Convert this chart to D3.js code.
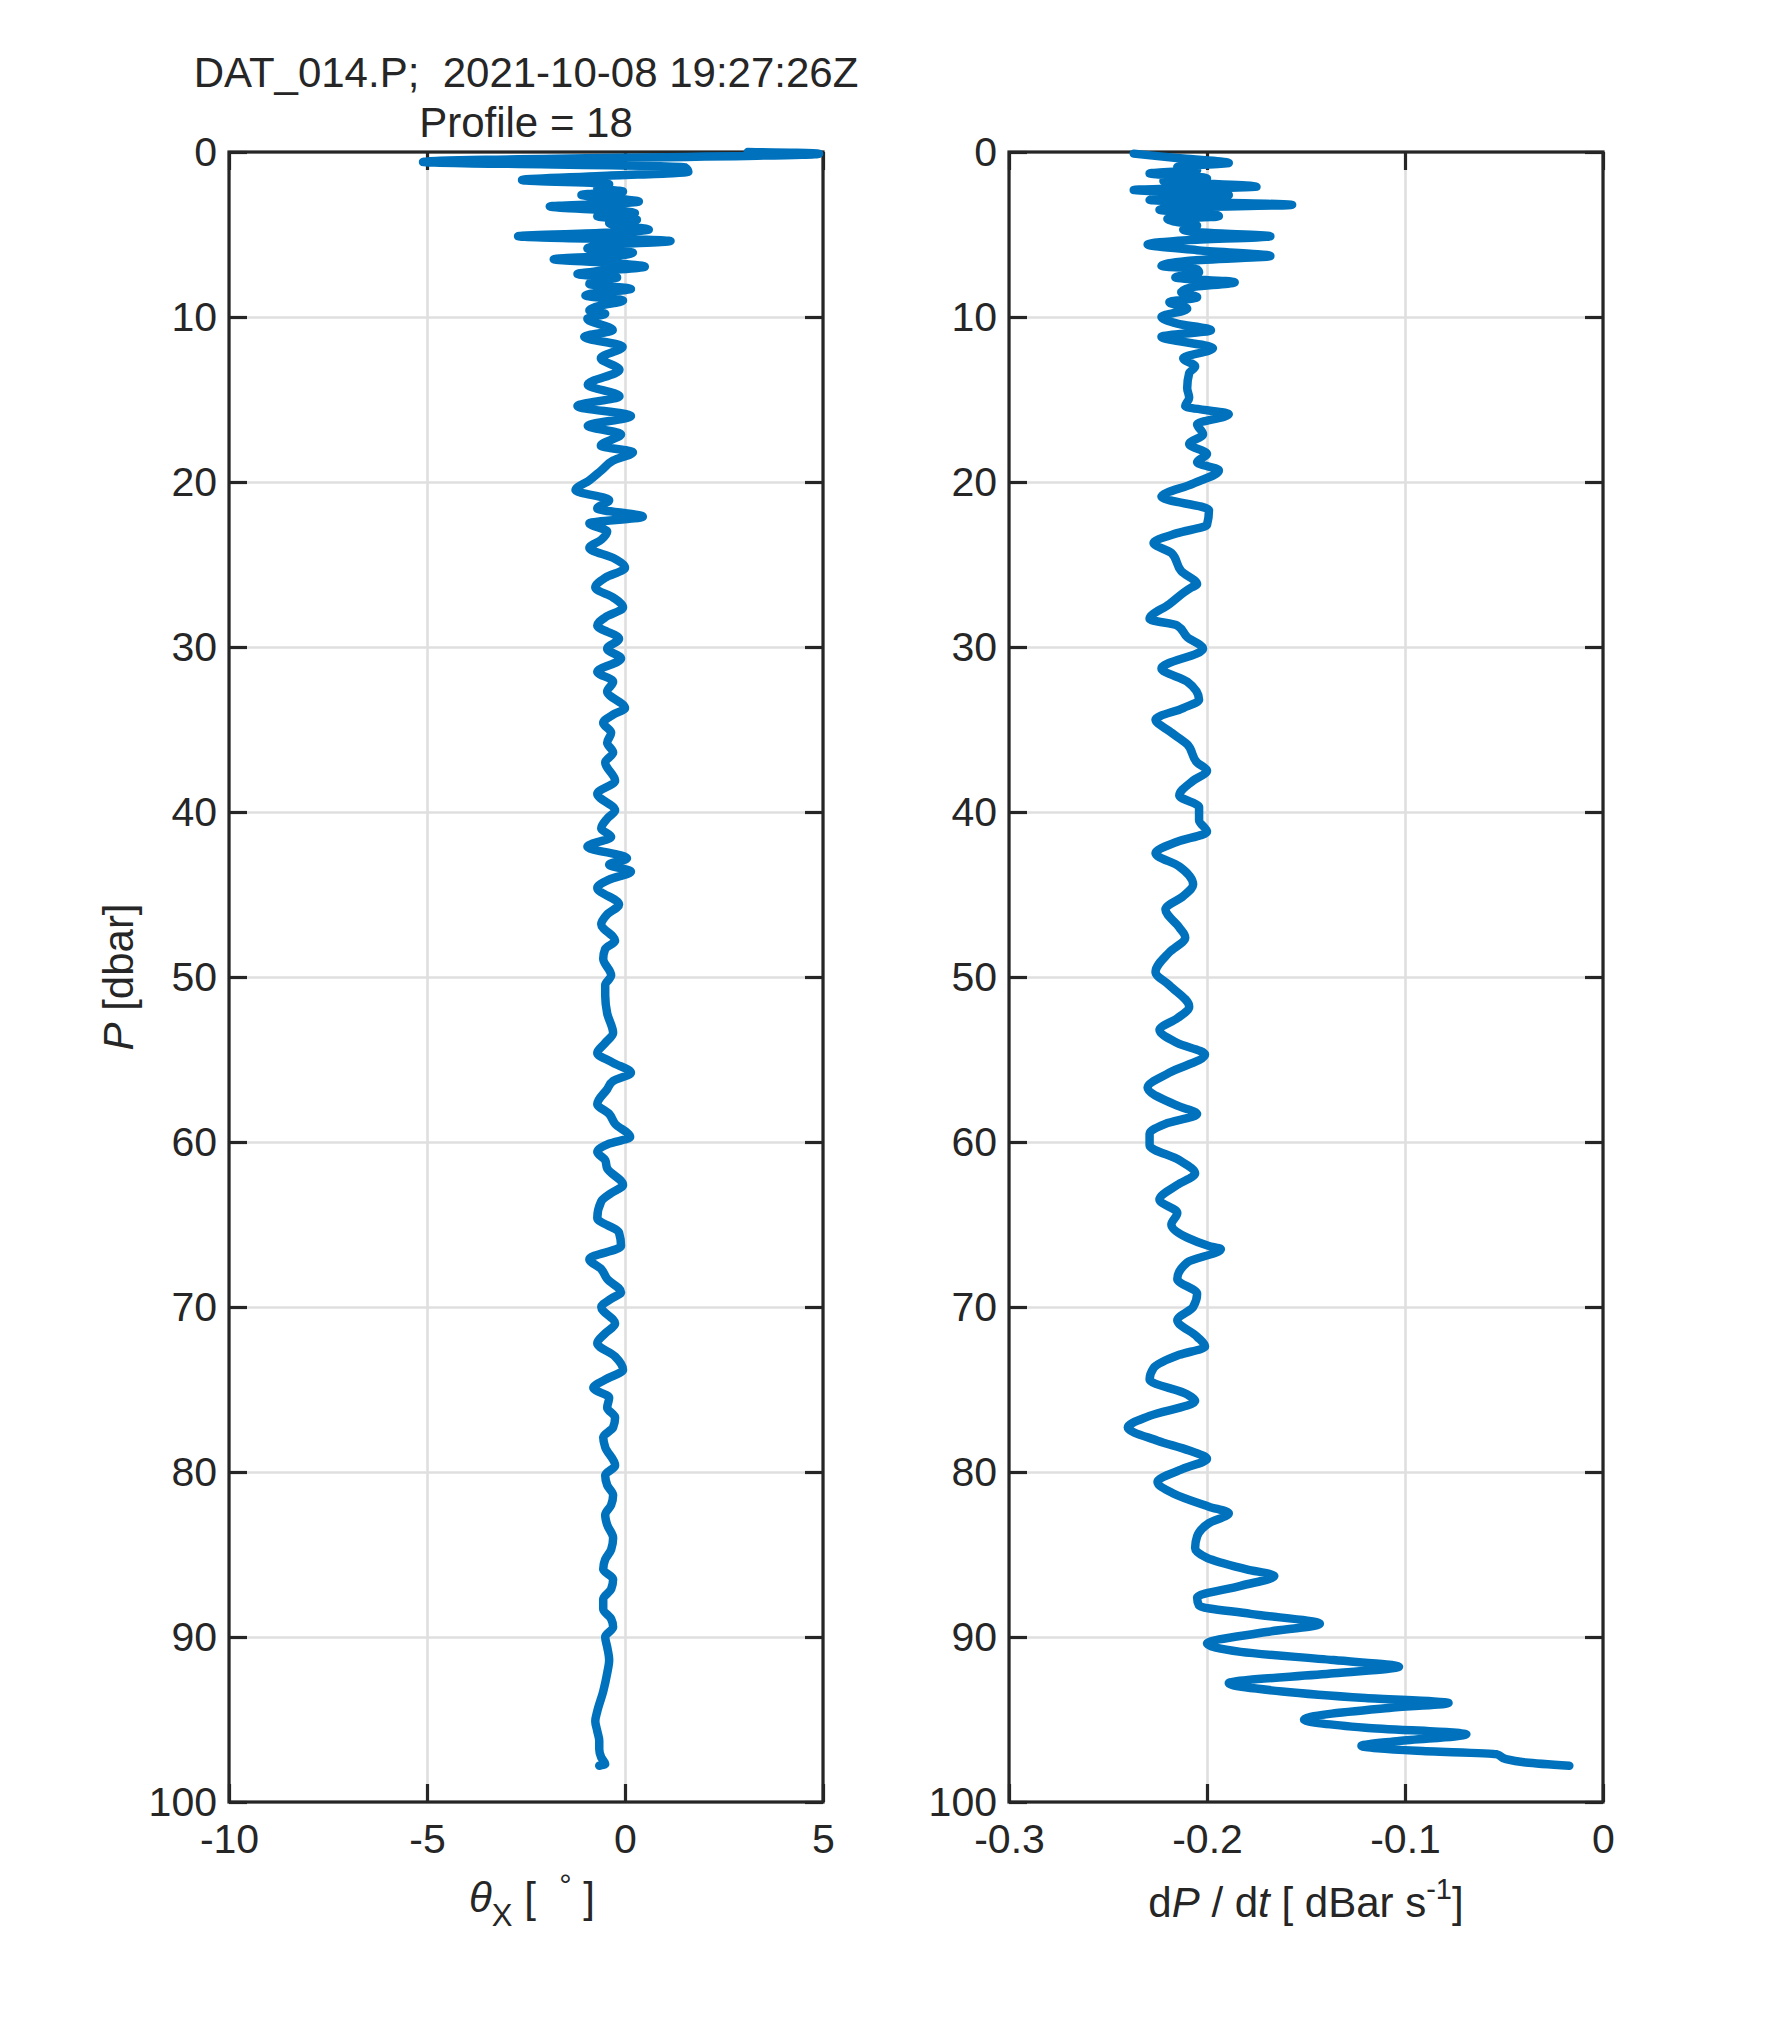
<!DOCTYPE html>
<html lang="en">
<head>
<meta charset="utf-8">
<title>DAT_014.P profile 18</title>
<script src="https://cdn.jsdelivr.net/npm/d3@7"></script>
<style>
  body { margin: 0; background: #fff; }
  text { font-family: "Liberation Sans", Arial, Helvetica, sans-serif; fill: #262626; }
</style>
</head>
<body>
<script>
// pressure levels and pitch angle theta_X (left panel)
var pTheta = [0.0,0.1,0.6,0.9,1.2,1.45,1.7,1.95,2.2,2.4,2.6,2.8,3.0,3.15,3.3,3.55,3.7,3.9,4.1,4.3,4.5,4.7,4.9,5.1,5.4,5.6,5.85,6.1,6.3,6.5,6.7,6.95,7.2,7.4,7.6,7.8,8.0,8.3,8.5,8.7,9.0,9.3,9.6,9.8,
  10.1,10.8,11.2,11.8,12.5,13.2,14.1,14.8,15.4,16.0,16.6,17.1,17.8,18.2,18.7,19.3,19.9,20.5,21.1,21.6,22.1,22.5,23.0,23.5,24.0,24.6,25.2,25.8,26.4,27.0,27.6,28.2,28.7,29.5,
  30.1,30.7,31.5,32.1,32.7,33.7,34.1,34.6,35.2,35.8,36.4,37.0,38.1,38.9,39.9,40.4,41.0,41.5,42.1,42.8,43.2,43.6,44.1,44.6,45.6,46.2,46.8,47.8,48.3,48.9,49.9,
  50.5,51.1,52.2,53.4,54.0,54.6,55.2,55.8,56.3,56.8,57.7,58.3,58.9,59.7,60.1,60.6,61.1,61.6,62.6,63.1,63.6,64.6,65.5,66.3,67.1,67.7,68.3,69.1,69.5,
  70.0,71.0,71.6,72.2,73.0,73.8,74.4,74.9,75.5,76.1,76.7,77.3,77.9,78.5,79.6,80.2,80.8,81.4,82.0,82.6,83.2,84.0,84.7,85.3,85.9,86.5,87.1,87.7,88.3,88.9,89.4,
  90.0,90.6,91.4,92.2,93.3,94.5,95.1,95.7,96.3,96.8,97.3,97.7,97.8];
var theta = [3.1,4.9,-5.1,1.5,1.6,-0.6,-2.6,-0.4,-0.7,-0.05,-1.1,-0.4,0.35,-0.6,-1.9,-0.3,0.25,-0.7,0.3,-0.4,-0.1,0.6,-0.5,-2.7,1.15,-0.3,-0.95,0.2,-0.3,-1.8,-0.5,0.5,-0.6,-1.2,-0.2,-0.8,-0.9,0.15,-0.6,-1.0,-0.05,-0.6,-0.9,-0.5,
  -0.95,-0.31,-1.03,-0.06,-0.61,-0.14,-0.94,-0.14,-1.2,0.15,-0.94,-0.1,-0.61,0.2,-0.3,-0.6,-0.9,-1.25,-0.4,-0.7,0.45,-0.9,-0.45,-0.6,-0.9,-0.3,0.0,-0.5,-0.75,-0.3,-0.05,-0.5,-0.7,-0.15,
  -0.45,-0.1,-0.7,-0.3,-0.45,0.0,-0.3,-0.55,-0.35,-0.45,-0.3,-0.5,-0.25,-0.7,-0.25,-0.45,-0.6,-0.35,-0.95,0.05,-0.4,0.15,-0.4,-0.7,-0.15,-0.45,-0.6,-0.25,-0.5,-0.55,-0.35,
  -0.5,-0.5,-0.45,-0.3,-0.5,-0.7,-0.3,0.15,-0.3,-0.45,-0.7,-0.4,-0.25,0.13,-0.4,-0.7,-0.5,-0.45,-0.05,-0.35,-0.6,-0.7,-0.15,-0.1,-0.9,-0.6,-0.45,-0.1,-0.35,
  -0.6,-0.25,-0.5,-0.7,-0.25,-0.05,-0.5,-0.8,-0.4,-0.45,-0.25,-0.3,-0.55,-0.5,-0.25,-0.5,-0.45,-0.3,-0.35,-0.5,-0.45,-0.3,-0.35,-0.5,-0.55,-0.3,-0.35,-0.55,-0.55,-0.35,-0.3,
  -0.5,-0.45,-0.4,-0.45,-0.55,-0.7,-0.75,-0.7,-0.65,-0.65,-0.6,-0.5,-0.65];

// pressure levels and fall rate dP/dt (right panel)
var pRate = [0.1,0.25,0.4,0.66,0.9,1.1,1.3,1.45,1.6,1.75,1.9,2.1,2.3,2.45,2.6,2.75,2.9,3.05,3.2,3.35,3.5,3.7,3.9,4.05,4.2,4.45,4.7,4.9,5.1,5.35,5.6,5.95,6.3,6.6,6.9,7.1,7.3,7.6,7.9,8.2,8.5,8.8,9.1,9.5,
  10.0,10.4,10.8,11.2,11.9,12.5,13.0,13.4,14.3,14.9,15.4,15.9,16.5,17.1,17.7,18.3,18.8,19.3,20.1,20.9,21.7,22.6,23.1,23.7,24.3,25.4,26.2,26.4,27.4,28.3,28.7,29.4,
  30.1,31.3,32.1,33.2,33.7,34.4,35.1,35.9,37.0,37.5,38.1,39.0,39.7,40.5,41.2,41.8,42.5,43.3,44.4,45.1,45.9,47.0,47.6,48.5,49.7,
  50.5,51.8,52.5,53.2,54.0,54.7,55.8,56.7,57.8,58.3,58.9,59.5,60.2,61.1,61.9,62.6,63.5,64.3,65.0,65.8,66.3,66.5,67.3,68.3,69.2,
  70.0,70.8,71.8,72.4,72.9,73.7,74.4,75.3,75.7,76.6,77.3,78.1,78.7,79.2,79.8,80.6,81.3,82.1,82.5,83.1,83.9,84.6,85.2,85.9,86.3,86.9,87.6,88.1,88.6,89.2,89.7,
  90.4,90.9,91.4,91.8,92.2,92.8,93.3,93.7,94.0,94.3,95.0,95.5,95.9,96.3,96.6,96.9,97.1,97.4,97.6,97.8];
var rate = [-0.237,-0.225,-0.212,-0.189,-0.215,-0.205,-0.229,-0.21,-0.2,-0.222,-0.205,-0.175,-0.237,-0.205,-0.189,-0.22,-0.229,-0.2,-0.157,-0.21,-0.224,-0.2,-0.194,-0.22,-0.217,-0.205,-0.212,-0.2,-0.168,-0.21,-0.23,-0.205,-0.168,-0.21,-0.223,-0.205,-0.204,-0.216,-0.186,-0.208,-0.213,-0.205,-0.219,-0.21,
  -0.223,-0.215,-0.198,-0.223,-0.197,-0.212,-0.206,-0.209,-0.21,-0.209,-0.211,-0.189,-0.205,-0.202,-0.209,-0.2,-0.205,-0.194,-0.207,-0.223,-0.199,-0.2,-0.215,-0.227,-0.218,-0.213,-0.205,-0.208,-0.219,-0.229,-0.215,-0.21,
  -0.202,-0.223,-0.21,-0.204,-0.212,-0.226,-0.219,-0.21,-0.205,-0.2,-0.207,-0.214,-0.204,-0.204,-0.2,-0.215,-0.226,-0.214,-0.207,-0.212,-0.221,-0.214,-0.211,-0.219,-0.226,
  -0.219,-0.209,-0.215,-0.224,-0.215,-0.201,-0.219,-0.23,-0.215,-0.205,-0.221,-0.229,-0.229,-0.214,-0.206,-0.215,-0.224,-0.215,-0.218,-0.21,-0.199,-0.193,-0.21,-0.215,-0.205,
  -0.207,-0.215,-0.205,-0.201,-0.214,-0.227,-0.229,-0.21,-0.206,-0.229,-0.24,-0.225,-0.209,-0.2,-0.212,-0.225,-0.217,-0.199,-0.189,-0.199,-0.205,-0.206,-0.2,-0.18,-0.166,-0.183,-0.205,-0.204,-0.178,-0.143,-0.17,
  -0.2,-0.183,-0.136,-0.103,-0.136,-0.189,-0.162,-0.12,-0.078,-0.108,-0.151,-0.12,-0.069,-0.103,-0.122,-0.094,-0.054,-0.049,-0.039,-0.017];

var pTicks = [0,10,20,30,40,50,60,70,80,90,100];
var thetaTicks = [-10,-5,0,5];
var rateTicks = [-0.3,-0.2,-0.1,0];

var W = 1771, H = 2025;
var yTop = 152, yBottom = 1802;
var axisColor = "#262626", gridColor = "#dfdfdf", lineColor = "#0072BD";

var svg = d3.select("body").append("svg")
  .attr("width", W).attr("height", H)
  .style("background", "#fff");

var y = d3.scaleLinear().domain([0, 100]).range([yTop, yBottom]);

// MATLAB style labels use a plain hyphen
function plain(d) { return String(d); }

function panel(left, right, xDomain, xTicks, P, V) {
  var x = d3.scaleLinear().domain(xDomain).range([left, right]);
  var g = svg.append("g");
  var h = yBottom - yTop, w = right - left;

  // grid
  g.append("g").attr("transform", "translate(0," + yBottom + ")")
    .call(d3.axisBottom(x).tickValues(xTicks).tickSize(-h).tickFormat(""))
    .call(function(s){ s.select(".domain").remove(); s.selectAll("line").attr("stroke", gridColor).attr("stroke-width", 2.6); });
  g.append("g").attr("transform", "translate(" + left + ",0)")
    .call(d3.axisLeft(y).tickValues(pTicks).tickSize(-w).tickFormat(""))
    .call(function(s){ s.select(".domain").remove(); s.selectAll("line").attr("stroke", gridColor).attr("stroke-width", 2.6); });

  // axes with inward ticks on all four sides
  var tl = 18;
  var ax = [
    [d3.axisBottom(x).tickValues(xTicks).tickFormat(plain), "translate(0," + yBottom + ")"],
    [d3.axisTop(x).tickValues(xTicks).tickFormat(""), "translate(0," + yTop + ")"],
    [d3.axisLeft(y).tickValues(pTicks).tickFormat(plain), "translate(" + left + ",0)"],
    [d3.axisRight(y).tickValues(pTicks).tickFormat(""), "translate(" + right + ",0)"]
  ];
  ax.forEach(function(a, i) {
    var axis = a[0].tickSizeInner(-tl).tickSizeOuter(0).tickPadding(i === 0 ? 22 : 12);
    g.append("g").attr("transform", a[1]).call(axis)
      .call(function(s){
        s.select(".domain").remove();
        s.selectAll("line").attr("stroke", axisColor).attr("stroke-width", 3.2);
        s.selectAll("text").style("font-size", "41px").style("font-family", "'Liberation Sans', Arial, sans-serif").attr("fill", axisColor);
      });
  });
  g.append("rect").attr("x", left).attr("y", yTop).attr("width", w).attr("height", h)
    .attr("fill", "none").attr("stroke", axisColor).attr("stroke-width", 3.2);

  var line = d3.line()
    .x(function(d){ return x(d[1]); })
    .y(function(d){ return y(d[0]); })
    .curve(d3.curveMonotoneY);
  g.append("path").datum(d3.zip(P, V))
    .attr("d", line)
    .attr("fill", "none").attr("stroke", lineColor)
    .attr("stroke-width", 8.5).attr("stroke-linejoin", "round").attr("stroke-linecap", "round");
  return x;
}

panel(229, 823, [-10, 5], thetaTicks, pTheta, theta);
panel(1009, 1603, [-0.3, 0], rateTicks, pRate, rate);

// title
var title = svg.append("text").attr("text-anchor", "middle").style("font-size", "42px").attr("fill", "#000");
title.append("tspan").attr("x", 526).attr("y", 87).text("DAT_014.P;\u00a0 2021-10-08 19:27:26Z");
title.append("tspan").attr("x", 526).attr("y", 137).text("Profile = 18");

// y label
var yl = svg.append("text").attr("transform", "translate(133,977) rotate(-90)")
  .attr("text-anchor", "middle").style("font-size", "42px");
yl.append("tspan").style("font-style", "italic").text("P");
yl.append("tspan").text(" [dbar]");

// x label left
var xl = svg.append("text").attr("x", 532).attr("y", 1912).attr("text-anchor", "middle").style("font-size", "42px");
xl.append("tspan").style("font-style", "italic").text("\u03b8");
xl.append("tspan").attr("dy", 14).style("font-size", "31px").text("X");
xl.append("tspan").attr("dy", -14).text(" [\u00a0 ");
xl.append("tspan").attr("dy", -16).style("font-size", "31px").text("\u00b0");
xl.append("tspan").attr("dy", 16).text(" ]");

// x label right
var xr = svg.append("text").attr("x", 1306).attr("y", 1917).attr("text-anchor", "middle").style("font-size", "42px");
xr.append("tspan").text("d");
xr.append("tspan").style("font-style", "italic").text("P");
xr.append("tspan").text(" / d");
xr.append("tspan").style("font-style", "italic").text("t");
xr.append("tspan").text(" [ dBar s");
xr.append("tspan").attr("dy", -18).style("font-size", "29px").text("-1");
xr.append("tspan").attr("dy", 18).text("]");
</script>
</body>
</html>
